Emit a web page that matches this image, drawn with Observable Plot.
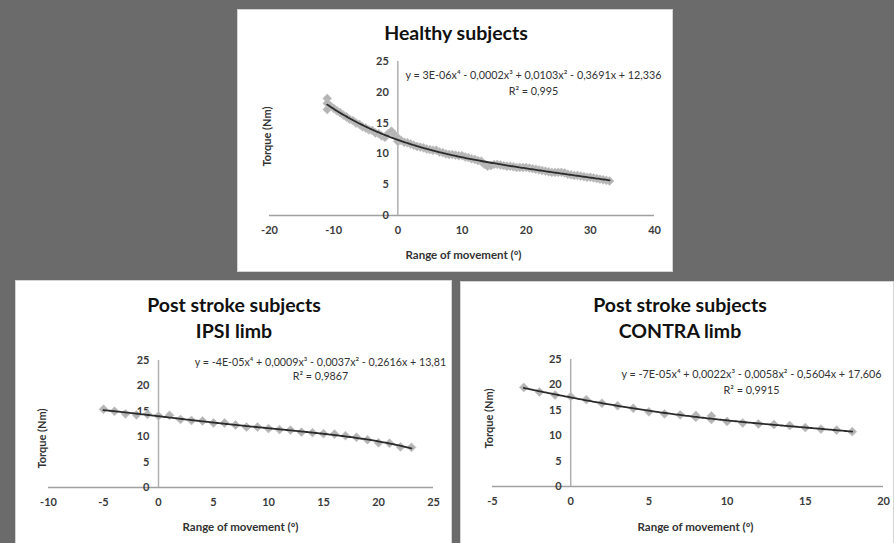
<!DOCTYPE html>
<html>
<head>
<meta charset="utf-8">
<script src="https://cdn.jsdelivr.net/npm/d3@7"></script>
<script src="https://cdn.jsdelivr.net/npm/@observablehq/plot@0.6"></script>
<style>
  body { margin: 0; }
  #root { position: relative; width: 894px; height: 543px; background: #6b6b6b; overflow: hidden; font-family: Lato, "Open Sans", sans-serif; }
  .panel { position: absolute; background: #fff; box-shadow: inset 0 0 0 1px #d4d4d4; }
  .title { position: absolute; width: 300px; text-align: center; font-weight: bold; font-size: 19.5px; line-height: 22px; color: #111; white-space: nowrap; }
  svg.chart { position: absolute; }
</style>
</head>
<body>
<div id="root"></div>
<script>
// ---------- data ----------
const healthyAngle  = [-11,-11,-11,-10.5,-10,-9.5,-9,-8.5,-8,-7.5,-7,-6.5,-6,-5.5,-5,-4.5,-4,-3.5,-3,-2.5,-2,-1.5,-1,-0.5,0,0,0.5,1,1.5,2,2.5,3,3.5,4,4.5,5,5.5,6,6.5,7,7.5,8,8.5,9,9.5,10,10.5,11,11.5,12,12.5,13,13.5,14,14.5,15,15.5,16,16.5,17,17.5,18,18.5,19,19.5,20,20.5,21,21.5,22,22.5,23,23.5,24,24.5,25,25.5,26,26.5,27,27.5,28,28.5,29,29.5,30,30.5,31,31.5,32,32.5,33];
const healthyTorque = [19.0,18.2,17.2,17.8,17.4,17.0,16.7,16.3,16.0,15.6,15.4,15.0,14.8,14.4,14.2,13.9,13.8,13.4,13.3,12.9,12.7,13.3,13.7,13.1,12.6,12.0,12.2,11.9,11.8,11.6,11.4,11.2,11.1,11.0,10.8,10.7,10.6,10.6,10.3,10.2,10.0,9.9,9.9,9.8,9.7,9.7,9.5,9.4,9.2,9.1,8.9,8.8,8.3,8.0,8.1,8.3,8.3,8.2,8.1,8.0,8.0,7.9,7.8,7.8,7.8,7.8,7.7,7.6,7.5,7.4,7.3,7.2,7.1,7.0,7.0,7.0,7.0,6.9,6.7,6.6,6.5,6.5,6.4,6.3,6.2,6.2,6.1,6.0,5.9,5.8,5.7,5.6];

const ipsiAngle  = [-5,-4,-3,-2,-1,0,1,2,3,4,5,6,7,8,9,10,11,12,13,14,15,16,17,18,19,20,21,22,23];
const ipsiTorque = [15.4,15.0,14.5,14.3,14.4,14.1,14.2,13.4,13.2,13.1,12.7,12.7,12.3,11.9,11.9,11.6,11.4,11.3,10.9,10.8,10.6,10.5,10.2,9.9,9.4,8.8,8.7,8.0,7.9];

const contraAngle  = [-3,-2,-1,0,1,2,3,4,5,6,7,8,8,9,9,10,11,12,13,14,15,16,17,18];
const contraTorque = [19.5,18.6,18.0,17.7,17.1,16.4,15.9,15.4,14.7,14.3,14.1,13.6,14.0,13.2,13.9,12.8,12.5,12.3,12.2,12.0,11.6,11.3,11.1,10.8];

const torqueTicks = [0, 5, 10, 15, 20, 25];
const healthyXTicks = [-20, -10, 0, 10, 20, 30, 40];
const ipsiXTicks = [-10, -5, 0, 5, 10, 15, 20, 25];
const contraXTicks = [-5, 0, 5, 10, 15, 20];

const healthyTitle = ["Healthy subjects"];
const ipsiTitle = ["Post stroke subjects", "IPSI limb"];
const contraTitle = ["Post stroke subjects", "CONTRA limb"];

const healthyEq = ["y = 3E-06x⁴ - 0,0002x³ + 0,0103x² - 0,3691x + 12,336", "R² = 0,995"];
const ipsiEq = ["y = -4E-05x⁴ + 0,0009x³ - 0,0037x² - 0,2616x + 13,81", "R² = 0,9867"];
const contraEq = ["y = -7E-05x⁴ + 0,0022x³ - 0,0058x² - 0,5604x + 17,606", "R² = 0,9915"];

const xLabel = "Range of movement (º)";
const yLabel = "Torque (Nm)";

// ---------- 4th-order least-squares trendline (like Excel) ----------
function polyFit(xs, ys, deg) {
  const m = d3.mean(xs), s = (d3.max(xs) - d3.min(xs)) / 2 || 1;
  const ts = xs.map(x => (x - m) / s);
  const n = deg + 1;
  const A = Array.from({length: n}, () => new Array(n + 1).fill(0));
  for (let k = 0; k < ts.length; k++) {
    for (let i = 0; i < n; i++) {
      for (let j = 0; j < n; j++) A[i][j] += Math.pow(ts[k], i + j);
      A[i][n] += ys[k] * Math.pow(ts[k], i);
    }
  }
  for (let c = 0; c < n; c++) {
    let p = c;
    for (let r = c + 1; r < n; r++) if (Math.abs(A[r][c]) > Math.abs(A[p][c])) p = r;
    [A[c], A[p]] = [A[p], A[c]];
    for (let r = 0; r < n; r++) {
      if (r === c) continue;
      const f = A[r][c] / A[c][c];
      for (let j = c; j <= n; j++) A[r][j] -= f * A[c][j];
    }
  }
  const coef = A.map((row, i) => row[n] / row[i]);
  return x => { const t = (x - m) / s; return coef.reduce((acc, c, i) => acc + c * Math.pow(t, i), 0); };
}
function trend(xs, ys) {
  const f = polyFit(xs, ys, 4);
  const lo = d3.min(xs), hi = d3.max(xs);
  return d3.range(0, 201).map(i => { const x = lo + (hi - lo) * i / 200; return {x, y: f(x)}; });
}

const diamond = d3.symbolDiamond2 || "diamond";
const root = document.getElementById("root");

function addPanel(l, t, w, h) {
  const d = document.createElement("div");
  d.className = "panel";
  Object.assign(d.style, {left: l + "px", top: t + "px", width: w + "px", height: h + "px"});
  root.appendChild(d);
}
function addTitle(text, cx, cy) {
  const d = document.createElement("div");
  d.className = "title";
  d.textContent = text;
  Object.assign(d.style, {left: (cx - 150) + "px", top: (cy - 11) + "px"});
  root.appendChild(d);
}

function chart(o) {
  const pts = o.angle.map((a, i) => ({x: a, y: o.torque[i]}));
  const fit = trend(o.angle, o.torque);
  const at = (sx, sy) => ({frameAnchor: "top-left", dx: sx - o.ml, dy: sy - o.mt});
  const svg = Plot.plot({
    width: o.width, height: o.height,
    marginLeft: o.ml, marginRight: o.mr, marginTop: o.mt, marginBottom: o.mb,
    style: {fontFamily: "Lato, 'Open Sans', sans-serif", fontSize: "11px", fontWeight: "bold", background: "transparent", overflow: "visible", color: "#3a3a3a"},
    x: {type: "linear", domain: o.xDomain, ticks: o.xTicks, tickFormat: d => String(d), tickSize: 0, tickPadding: 11, label: null},
    y: {type: "linear", domain: [0, 25], axis: null},
    marks: [
      Plot.ruleY([0], {stroke: "#a0a0a0", strokeWidth: 1.5}),
      Plot.ruleX([0], {stroke: "#b0b0b0", strokeWidth: 1.5}),
      Plot.text(torqueTicks, {x: 0, y: d => d, text: d => String(d), dx: -9, textAnchor: "end", fontSize: 11, fontWeight: "bold", fill: "#3a3a3a"}),
      Plot.dot(pts, {x: "x", y: "y", symbol: diamond, r: o.r, fill: "#b4b4b4", stroke: "#c4c4c4", strokeWidth: 0.8}),
      Plot.line(fit, {x: "x", y: "y", stroke: "#2b2b2b", strokeWidth: 1.8, curve: "linear"}),
      Plot.text([o.eq[0]], {...at(o.eqX, o.eqY), text: d => d, textAnchor: "middle", fontSize: o.eqSize, fontWeight: "normal", fill: "#333"}),
      Plot.text([o.eq[1]], {...at(o.eqX, o.eqY + o.eqGap), text: d => d, textAnchor: "middle", fontSize: o.eqSize, fontWeight: "normal", fill: "#333"}),
      Plot.text([xLabel], {...at(o.xlX, o.xlY), text: d => d, textAnchor: "middle", fontSize: 11.5, fontWeight: "bold", fill: "#333"}),
      Plot.text([yLabel], {...at(o.ylX, o.ylY), text: d => d, textAnchor: "middle", rotate: -90, fontSize: 11, fontWeight: "bold", fill: "#333"})
    ]
  });
  svg.classList.add("chart");
  svg.style.left = o.left + "px";
  svg.style.top = o.top + "px";
  root.appendChild(svg);
}

// ---------- panels ----------
addPanel(237, 9, 436, 263);
addPanel(15, 280, 437, 265);
addPanel(460, 281, 434, 264);

addTitle(healthyTitle[0], 456, 33);
addTitle(ipsiTitle[0], 234, 305);
addTitle(ipsiTitle[1], 234, 331);
addTitle(contraTitle[0], 680, 305);
addTitle(contraTitle[1], 680, 331);

chart({left: 238, top: 50, width: 434, height: 221, ml: 31, mr: 18, mt: 11, mb: 56,
  xDomain: [-20, 40], xTicks: healthyXTicks, angle: healthyAngle, torque: healthyTorque, r: 4,
  eq: healthyEq, eqSize: 10.8, eqX: 295, eqY: 21, eqGap: 16, xlX: 225, xlY: 200, ylX: 25, ylY: 86});

chart({left: 16, top: 345, width: 435, height: 196, ml: 32, mr: 18, mt: 15, mb: 54,
  xDomain: [-10, 25], xTicks: ipsiXTicks, angle: ipsiAngle, torque: ipsiTorque, r: 4,
  eq: ipsiEq, eqSize: 10.7, eqX: 304, eqY: 13, eqGap: 14, xlX: 224, xlY: 177, ylX: 22, ylY: 93});

chart({left: 460, top: 345, width: 433, height: 196, ml: 32, mr: 10, mt: 14, mb: 55,
  xDomain: [-5, 20], xTicks: contraXTicks, angle: contraAngle, torque: contraTorque, r: 4,
  eq: contraEq, eqSize: 10.8, eqX: 291, eqY: 25, eqGap: 16, xlX: 235, xlY: 177, ylX: 25, ylY: 73});
</script>
</body>
</html>
